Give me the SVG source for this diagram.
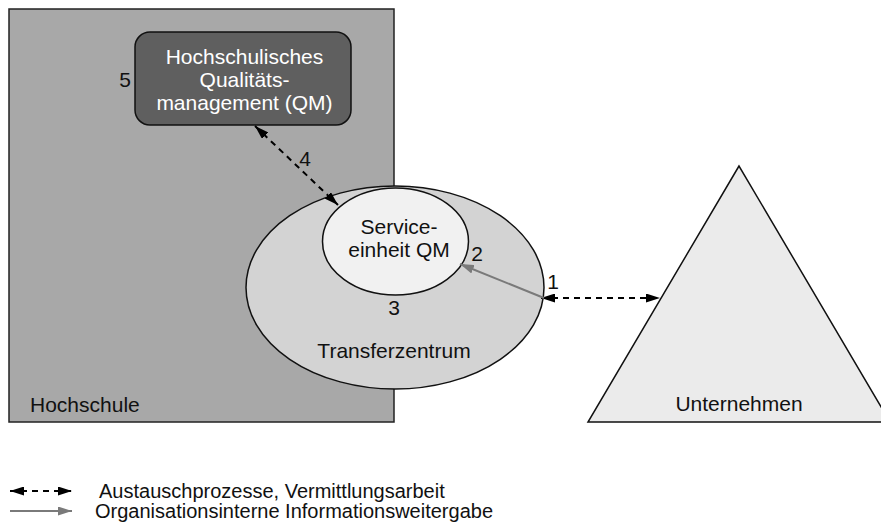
<svg xmlns="http://www.w3.org/2000/svg" width="881" height="522" viewBox="0 0 881 522">
  <style>
    text { font-family: "Liberation Sans", Arial, sans-serif; fill: #111; }
    .t21 { font-size: 21px; }
    .t20 { font-size: 20px; }
    .num { font-size: 21px; text-anchor: middle; }
    .white { fill: #ffffff; }
    .mid { text-anchor: middle; }
    .dash { stroke: #000; stroke-width: 2; stroke-dasharray: 6 5; fill: none; }
    .gray { stroke: #7a7a7a; stroke-width: 2; fill: none; }
  </style>
  <defs>
    <marker id="ah" viewBox="0 0 14 9" markerWidth="14" markerHeight="9" refX="14" refY="4.5" orient="auto-start-reverse" markerUnits="userSpaceOnUse">
      <path d="M0,0 L14,4.5 L0,9 z" fill="#000"/>
    </marker>
    <marker id="ahg" viewBox="0 0 14 9" markerWidth="14" markerHeight="9" refX="14" refY="4.5" orient="auto" markerUnits="userSpaceOnUse">
      <path d="M0,0 L14,4.5 L0,9 z" fill="#7a7a7a"/>
    </marker>
  </defs>

  <g id="hochschule">
    <rect x="9" y="9" width="385" height="413" fill="#a8a8a8" stroke="#222" stroke-width="1.5"/>
    <text class="t21" x="30" y="412">Hochschule</text>
  </g>

  <g id="unternehmen">
    <polygon points="739,166 588,422 890,422" fill="#ebebeb" stroke="#111" stroke-width="1.5"/>
    <text class="t21 mid" x="739" y="411">Unternehmen</text>
  </g>

  <g id="transferzentrum">
    <ellipse cx="395" cy="287.5" rx="149" ry="101.5" fill="#d3d3d3" stroke="#111" stroke-width="1.5"/>
    <text class="t21 mid" x="394" y="358">Transferzentrum</text>
  </g>

  <g id="serviceeinheit">
    <ellipse cx="395.5" cy="241.5" rx="73" ry="53.5" fill="#f1f1f1" stroke="#111" stroke-width="1.5"/>
    <text class="t21 mid" x="399" y="234">Service-</text>
    <text class="t21 mid" x="399" y="257">einheit QM</text>
  </g>

  <g id="qm">
    <rect x="135" y="32" width="216" height="93" rx="15" ry="15" fill="#5f5f5f" stroke="#111" stroke-width="1.5"/>
    <text class="t21 mid white" x="244.5" y="64">Hochschulisches</text>
    <text class="t21 mid white" x="244.5" y="87">Qualitäts-</text>
    <text class="t21 mid white" x="244.5" y="110">management (QM)</text>
  </g>

  <g id="connectors">
    <line class="dash" x1="541" y1="298" x2="660" y2="298" marker-start="url(#ah)" marker-end="url(#ah)"/>
    <line class="gray" x1="544" y1="298" x2="460" y2="264" marker-end="url(#ahg)"/>
    <line class="dash" x1="255" y1="126" x2="338" y2="205" marker-start="url(#ah)" marker-end="url(#ah)"/>
  </g>

  <g id="labels">
    <text class="num" x="553" y="289">1</text>
    <text class="num" x="477" y="261">2</text>
    <text class="num" x="394" y="315">3</text>
    <text class="num" x="305" y="166">4</text>
    <text class="num" x="125" y="87">5</text>
  </g>

  <g id="legend">
    <line class="dash" x1="10" y1="491" x2="72" y2="491" marker-start="url(#ah)" marker-end="url(#ah)"/>
    <text class="t20" x="99" y="498">Austauschprozesse, Vermittlungsarbeit</text>
    <line class="gray" x1="10" y1="511" x2="72" y2="511" marker-end="url(#ahg)"/>
    <text class="t20" x="95" y="518">Organisationsinterne Informationsweitergabe</text>
  </g>
</svg>
